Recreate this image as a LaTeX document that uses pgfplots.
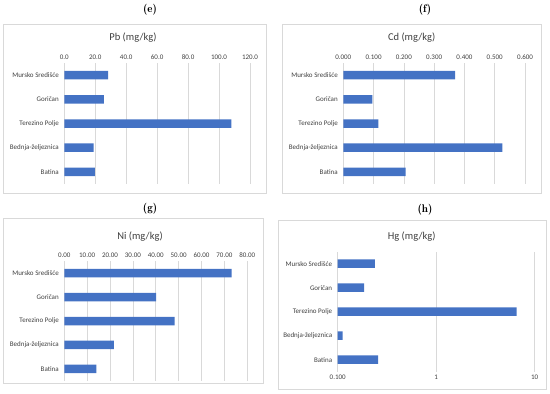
\documentclass[border=0pt]{standalone}
\usepackage{pgfplots}
\pgfplotsset{compat=1.18}
\usepackage{fontspec}
\setmainfont{Carlito}
\definecolor{barc}{HTML}{4472C4}
\definecolor{gridc}{HTML}{D9D9D9}
\definecolor{framec}{HTML}{D9D9D9}
\definecolor{txtc}{HTML}{404040}
\newcommand{\tl}{\fontsize{7}{8}\selectfont}
\newcommand{\ttl}{\fontsize{10.5}{12}\selectfont}
\newcommand{\pl}{\fontfamily{lmr}\fontseries{b}\fontsize{11}{13}\selectfont}
\pgfplotsset{hb/.style={
  xbar, scale only axis, anchor=south west,
  ymin=-0.5, ymax=4.5, ytick={0,...,4},
  yticklabels={Batina,Bednja-željeznica,Terezino Polje,Goričan,Mursko Središće},
  axis line style={draw=none}, major tick length=0pt, minor tick length=0pt,
  xmajorgrids, grid style={draw=gridc, line width=0.7pt},
  bar width=8.5pt,
  tick label style={font=\tl, text=txtc},
  /pgf/number format/assume math mode=true,
  yticklabel style={xshift=-2pt},
}}
\begin{document}
\begin{tikzpicture}
\path (0pt,0pt) rectangle (550pt,394pt);
\draw[framec, line width=0.8pt] (3pt,370pt) rectangle (266pt,201pt);
\draw[framec, line width=0.8pt] (282pt,370pt) rectangle (541pt,201pt);
\draw[framec, line width=0.8pt] (3pt,176pt) rectangle (263pt,11pt);
\draw[framec, line width=0.8pt] (278pt,174pt) rectangle (546pt,5pt);
\node at (150pt,384pt) {\pl (e)};
\node at (425pt,384pt) {\pl (f)};
\node at (150pt,185pt) {\pl (g)};
\node at (425pt,184pt) {\pl (h)};
\node[text=txtc] at (133pt,356pt) {\ttl Pb (mg/kg)};
\node[text=txtc] at (411.7pt,356pt) {\ttl Cd (mg/kg)};
\node[text=txtc] at (140pt,157.3pt) {\ttl Ni (mg/kg)};
\node[text=txtc] at (411.7pt,157.3pt) {\ttl Hg (mg/kg)};

\begin{axis}[hb, at={(64.3pt,210pt)}, width=185.7pt, height=121pt,
  xmin=0, xmax=120, xtick={0,20,...,120}, xticklabel pos=upper,
  xticklabel style={/pgf/number format/.cd, fixed, fixed zerofill, precision=1}]
\addplot[fill=barc, draw=none] coordinates {(19.8,0) (19.0,1) (108.0,2) (25.6,3) (28.4,4)};
\end{axis}

\begin{axis}[hb, at={(343.3pt,210pt)}, width=181.7pt, height=121pt,
  xmin=0, xmax=0.6, xtick={0,0.1,0.2,0.3,0.4,0.5,0.6}, xticklabel pos=upper,
  xticklabel style={/pgf/number format/.cd, fixed, fixed zerofill, precision=3}]
\addplot[fill=barc, draw=none] coordinates {(0.206,0) (0.525,1) (0.116,2) (0.096,3) (0.369,4)};
\end{axis}

\begin{axis}[hb, at={(64.3pt,13pt)}, width=183pt, height=120pt,
  xmin=0, xmax=80, xtick={0,10,...,80}, xticklabel pos=upper,
  xticklabel style={/pgf/number format/.cd, fixed, fixed zerofill, precision=2}]
\addplot[fill=barc, draw=none] coordinates {(14.0,0) (21.7,1) (48.2,2) (40.1,3) (73.2,4)};
\end{axis}

\begin{axis}[hb, at={(337.7pt,22.3pt)}, width=197pt, height=120pt,
  xmode=log, log origin x=infty, xmin=0.1, xmax=10,
  xtick={0.1,1,10}, xticklabels={0.100,1,10}, minor xtick={},
  xticklabel pos=lower]
\addplot[fill=barc, draw=none] coordinates {(0.257,0) (0.112,1) (6.56,2) (0.185,3) (0.238,4)};
\end{axis}
\end{tikzpicture}
\end{document}
